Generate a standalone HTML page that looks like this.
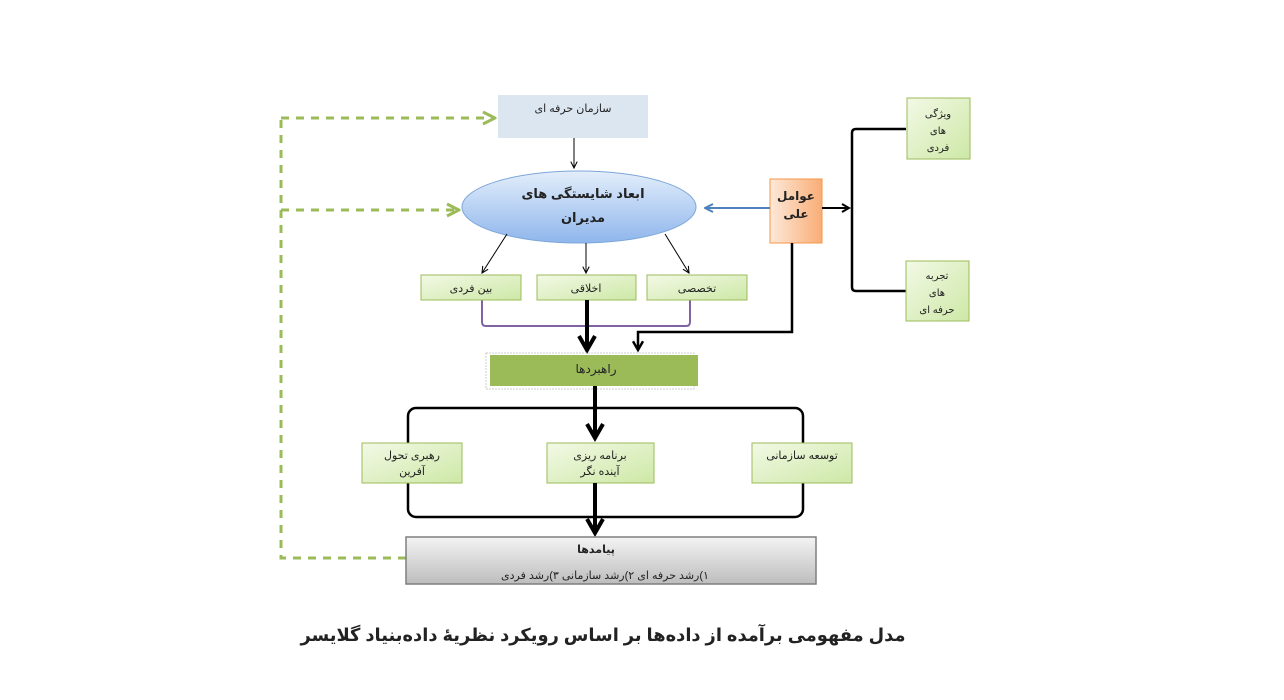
<!DOCTYPE html>
<html><head><meta charset="utf-8"><style>
html,body{margin:0;padding:0;background:#fff;}
svg{display:block;}
text{font-family:"Liberation Sans","DejaVu Sans",sans-serif;fill:#222;}
</style></head><body>
<svg width="1284" height="700" viewBox="0 0 1284 700" xmlns="http://www.w3.org/2000/svg">
<defs>
<linearGradient id="gb" x1="0" y1="0" x2="0" y2="1"><stop offset="0" stop-color="#e3eefb"/><stop offset="1" stop-color="#8fb6ec"/></linearGradient>
<linearGradient id="gg" x1="0" y1="0" x2="1" y2="1"><stop offset="0" stop-color="#f3f9e6"/><stop offset="1" stop-color="#cde8a6"/></linearGradient>
<linearGradient id="go" x1="0" y1="0" x2="1" y2="0"><stop offset="0" stop-color="#fde9d9"/><stop offset="1" stop-color="#f9ad76"/></linearGradient>
<linearGradient id="gy" x1="0" y1="0" x2="0" y2="1"><stop offset="0" stop-color="#f4f4f4"/><stop offset="1" stop-color="#bdbdbd"/></linearGradient>
<marker id="a" viewBox="0 0 10 10" refX="9" refY="5" markerWidth="8" markerHeight="8" orient="auto" markerUnits="userSpaceOnUse"><path d="M1,1 L9,5 L1,9" fill="none" stroke="#000" stroke-width="1.3"/></marker>
<marker id="ak" viewBox="0 0 10 10" refX="8" refY="5" markerWidth="5" markerHeight="5" orient="auto"><path d="M1,1 L8,5 L1,9" fill="none" stroke="#000" stroke-width="2"/></marker>
<marker id="ag" viewBox="0 0 10 10" refX="9" refY="5" markerWidth="5" markerHeight="5" orient="auto"><path d="M1,1 L9,5 L1,9" fill="none" stroke="#9bbb59" stroke-width="2"/></marker>
<marker id="abl" viewBox="0 0 10 10" refX="9" refY="5" markerWidth="5" markerHeight="5" orient="auto"><path d="M1,1 L9,5 L1,9" fill="none" stroke="#4f81bd" stroke-width="2"/></marker>
</defs>

<g stroke="#9bbb59" stroke-width="3" fill="none" stroke-dasharray="8 7">
<path d="M281,120 V558 H406"/>
<path d="M281,118 H495" marker-end="url(#ag)"/>
<path d="M281,210 H459" marker-end="url(#ag)"/>
</g>

<rect x="498" y="95" width="150" height="43" fill="#dce6f1"/>
<text x="573" y="112" font-size="11" text-anchor="middle">سازمان حرفه ای</text>
<line x1="574" y1="138" x2="574" y2="168" stroke="#000" stroke-width="1" marker-end="url(#a)"/>

<ellipse cx="579" cy="207" rx="117" ry="36" fill="url(#gb)" stroke="#7ea6d8" stroke-width="1"/>
<text x="583" y="198" font-size="13" font-weight="bold" text-anchor="middle">ابعاد شایستگی های</text>
<text x="583" y="222" font-size="13" font-weight="bold" text-anchor="middle">مدیران</text>

<line x1="507" y1="234" x2="482" y2="273" stroke="#000" stroke-width="1" marker-end="url(#a)"/>
<line x1="586" y1="243" x2="586" y2="273" stroke="#000" stroke-width="1" marker-end="url(#a)"/>
<line x1="665" y1="234" x2="689" y2="273" stroke="#000" stroke-width="1" marker-end="url(#a)"/>

<path d="M482,300 V322 Q482,326 486,326 H686 Q690,326 690,322 V300" fill="none" stroke="#8064a2" stroke-width="2"/>

<g stroke="#9bbb59" stroke-width="1" fill="url(#gg)">
<rect x="421" y="275" width="100" height="25"/>
<rect x="537" y="275" width="99" height="25"/>
<rect x="647" y="275" width="100" height="25"/>
</g>
<text x="471" y="292" font-size="11" text-anchor="middle">بین فردی</text>
<text x="586" y="292" font-size="11" text-anchor="middle">اخلاقی</text>
<text x="697" y="292" font-size="11" text-anchor="middle">تخصصی</text>

<line x1="587" y1="300" x2="587" y2="350" stroke="#000" stroke-width="4" marker-end="url(#ak)"/>

<rect x="770" y="179" width="52" height="64" fill="url(#go)" stroke="#f79646" stroke-width="1"/>
<text x="796" y="200" font-size="12" font-weight="bold" text-anchor="middle">عوامل</text>
<text x="796" y="218" font-size="12" font-weight="bold" text-anchor="middle">علی</text>
<line x1="770" y1="208" x2="705" y2="208" stroke="#4f81bd" stroke-width="2" marker-end="url(#abl)"/>
<line x1="822" y1="208" x2="849" y2="208" stroke="#000" stroke-width="2" marker-end="url(#ak)"/>
<path d="M906,129 H856 Q852,129 852,133 V287 Q852,291 856,291 H906" fill="none" stroke="#000" stroke-width="2.5"/>
<path d="M792,243 V332 H638 V350" fill="none" stroke="#000" stroke-width="2.5" marker-end="url(#ak)"/>

<g stroke="#9bbb59" stroke-width="1" fill="url(#gg)">
<rect x="907" y="98" width="63" height="61"/>
<rect x="906" y="261" width="63" height="60"/>
</g>
<text x="938" y="117" font-size="10" text-anchor="middle">ویژگی</text>
<text x="938" y="134" font-size="10" text-anchor="middle">های</text>
<text x="938" y="151" font-size="10" text-anchor="middle">فردی</text>
<text x="937" y="279" font-size="10" text-anchor="middle">تجربه</text>
<text x="937" y="296" font-size="10" text-anchor="middle">های</text>
<text x="937" y="313" font-size="10" text-anchor="middle">حرفه ای</text>

<rect x="486" y="353" width="208" height="36" fill="none" stroke="#ccc" stroke-width="1" stroke-dasharray="2 1"/>
<rect x="490" y="355" width="208" height="31" fill="#9bbb59"/>
<text x="596" y="373" font-size="12" text-anchor="middle">راهبردها</text>
<line x1="595" y1="386" x2="595" y2="438" stroke="#000" stroke-width="4" marker-end="url(#ak)"/>

<rect x="408" y="408" width="395" height="109" rx="8" fill="none" stroke="#000" stroke-width="2.5"/>
<g stroke="#9bbb59" stroke-width="1" fill="url(#gg)">
<rect x="362" y="443" width="100" height="40"/>
<rect x="547" y="443" width="107" height="40"/>
<rect x="752" y="443" width="100" height="40"/>
</g>
<text x="412" y="459" font-size="11" text-anchor="middle">رهبری تحول</text>
<text x="412" y="475" font-size="11" text-anchor="middle">آفرین</text>
<text x="600" y="459" font-size="11" text-anchor="middle">برنامه ریزی</text>
<text x="600" y="475" font-size="11" text-anchor="middle">آینده نگر</text>
<text x="802" y="459" font-size="11" text-anchor="middle">توسعه سازمانی</text>
<line x1="595" y1="483" x2="595" y2="533" stroke="#000" stroke-width="4" marker-end="url(#ak)"/>

<rect x="406" y="537" width="410" height="47" fill="url(#gy)" stroke="#7f7f7f" stroke-width="1.5"/>
<text x="596" y="553" font-size="11" font-weight="bold" text-anchor="middle">پیامدها</text>
<text x="605" y="579" font-size="11" text-anchor="middle" direction="rtl">۱)رشد حرفه ای   ۲)رشد سازمانی  ۳)رشد فردی</text>

<text x="603" y="641" font-size="18" font-weight="bold" text-anchor="middle" fill="#000" textLength="605" lengthAdjust="spacingAndGlyphs">مدل مفهومی برآمده از داده‌ها بر اساس رویکرد نظریهٔ داده‌بنیاد گلایسر</text>
</svg>
</body></html>
